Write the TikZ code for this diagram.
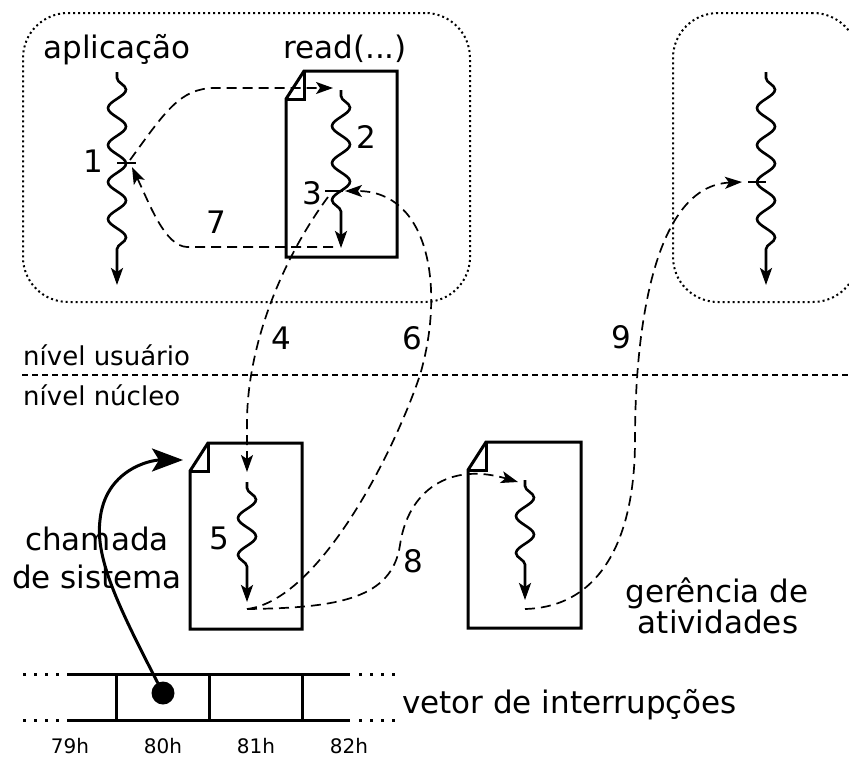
\documentclass[tikz,border=0pt]{standalone}
\usepackage{fontspec}
\setmainfont{DejaVu Sans}
\usetikzlibrary{arrows.meta,decorations.pathmorphing,calc}
\newcommand\mydocoutline[1]{%
  \draw[docline] ([yshift=-28pt]#1.north west) -- ([xshift=18pt]#1.north west) -- (#1.north east) -- (#1.south east) -- (#1.south west) -- cycle;
  \draw[docline] ([xshift=18pt]#1.north west) -- ([xshift=18pt,yshift=-28pt]#1.north west) -- ([yshift=-28pt]#1.north west);}
\begin{document}
\begin{tikzpicture}[x=1pt,y=-1pt,
  big/.style={font=\fontsize{31pt}{38pt}\selectfont, inner sep=0pt, anchor=base},
  lvl/.style={font=\fontsize{26pt}{31pt}\selectfont, inner sep=0pt, anchor=base west},
  hex/.style={font=\fontsize{20pt}{24pt}\selectfont, inner sep=0pt, anchor=base},
  docnode/.style={draw=none, inner sep=0pt, outer sep=0pt, minimum height=186pt},
  docline/.style={line width=3pt, line join=miter},
  dotbox/.style={draw, line width=2pt, dash pattern=on 2pt off 3pt, rounded corners=45pt, inner sep=0pt, outer sep=0pt, minimum height=289pt},
  wavy/.style={line width=2.6pt, decorate, decoration={snake, amplitude=9pt, segment length=37pt, pre length=6pt, post length=18pt}, -{Stealth[length=17pt,width=12pt,inset=4pt]}},
  ticks/.style={line width=2.6pt},
  conn/.style={line width=1.7pt, dash pattern=on 10pt off 6pt, -{Stealth[length=17pt,width=12pt,inset=4pt]}},
  callarrow/.style={line width=3pt, -{Stealth[length=31pt,width=23pt,inset=7pt]}},
  tabline/.style={line width=3pt},
  tabdots/.style={line width=3pt, dash pattern=on 2.5pt off 8.5pt},
  levelline/.style={line width=1.7pt, dash pattern=on 6pt off 4pt}]
\useasboundingbox (0,0) rectangle (849,758);

% user-level boxes
\node[dotbox, minimum width=447pt] (userbox) at (246.5,157.5) {};
\node[dotbox, minimum width=185pt] (otherbox) at (765.5,157.5) {};

% documents
\node[docnode, minimum width=111pt] (readdoc) at (341.5,164) {};
\node[docnode, minimum width=112pt] (scdoc) at (246,536) {};
\node[docnode, minimum width=113pt] (gadoc) at (524.5,535) {};
\mydocoutline{readdoc}
\mydocoutline{scdoc}
\mydocoutline{gadoc}

% texts
\node[big] (lapp) at (117,58) {aplicação};
\node[big] (lread) at (345,58) {read(...)};
\node[big] (n1) at (93,172) {1};
\node[big] (n2) at (366,148) {2};
\node[big] (n3) at (312,204) {3};
\node[big] (n7) at (216,233) {7};
\node[big] (n4) at (281,349) {4};
\node[big] (n6) at (412,349) {6};
\node[big] (n9) at (621,348) {9};
\node[big] (n5) at (219,549) {5};
\node[big] (n8) at (413,572) {8};
\node[lvl] (luser) at (23,365) {nível usuário};
\node[lvl] (lkern) at (23,405) {nível núcleo};
\node[big] (lcham) at (97,550) {chamada};
\node[big] (lsis) at (97,588) {de sistema};
\node[big] (lger) at (717,602) {gerência de};
\node[big] (lativ) at (718,633) {atividades};
\node[big, anchor=base west] (lvet) at (402,713) {vetor de interrupções};
\node[hex] (h79) at (70,753) {79h};
\node[hex] (h80) at (163,753) {80h};
\node[hex] (h81) at (256,753) {81h};
\node[hex] (h82) at (349,753) {82h};

% level separator
\coordinate (lvA) at (22,375);
\coordinate (lvB) at (849,375);
\draw[levelline] (lvA) -- (lvB);

% threads (wavy)
\coordinate (w1s) at (117,72);  \coordinate (w1e) at (117,285);
\coordinate (w2s) at (341,90);  \coordinate (w2e) at (341,248);
\coordinate (w3s) at (247,482); \coordinate (w3e) at (247,602);
\coordinate (w4s) at (525,480); \coordinate (w4e) at (525,600);
\coordinate (w5s) at (766,72);  \coordinate (w5e) at (766,285);
\draw[wavy] (w1s) -- (w1e);
\draw[wavy] (w2s) -- (w2e);
\draw[wavy] (w3s) -- (w3e);
\draw[wavy] (w4s) -- (w4e);
\draw[wavy] (w5s) -- (w5e);

% ticks
\coordinate (t1a) at (117,163); \coordinate (t1b) at (136,163);
\coordinate (t3a) at (325,191); \coordinate (t3b) at (343,191);
\coordinate (t9a) at (748,182); \coordinate (t9b) at (766,182);
\draw[ticks] (t1a) -- (t1b);
\draw[ticks] (t3a) -- (t3b);
\draw[ticks] (t9a) -- (t9b);

% connectors
\coordinate (p1) at (130,160);
\coordinate (p2) at (333,88);
\coordinate (p7s) at (333,247);
\coordinate (p7e) at (132,167);
\coordinate (p3) at (328,197);
\coordinate (p4e) at (247,472);
\coordinate (p5e) at (247,609);
\coordinate (p6e) at (345,191);
\coordinate (p8e) at (518,482);
\coordinate (p9s) at (525,609);
\coordinate (p9e) at (742,182);
\draw[conn] (p1) .. controls (165,112) and (180,88) .. (215,88) -- (p2);
\draw[conn] (p7s) -- (187,247) .. controls (165,246) and (150,205) .. (p7e);
\draw[conn] (p3) .. controls (285,255) and (248,340) .. (247,420) -- (p4e);
\draw[conn] (p5e) .. controls (320,600) and (395,450) .. (420,375) .. controls (445,290) and (430,191) .. (p6e);
\draw[conn] (p5e) .. controls (340,608) and (392,598) .. (400,545) .. controls (408,490) and (450,462) .. (p8e);
\draw[conn] (p9s) .. controls (600,607) and (635,540) .. (635,440) .. controls (635,325) and (655,186) .. (p9e);

% interrupt vector
\coordinate (vtl) at (70,674); \coordinate (vtr) at (350,674);
\coordinate (vbl) at (70,720); \coordinate (vbr) at (350,720);
\draw[tabline] (vtl) -- (vtr);
\draw[tabline] (vbl) -- (vbr);
\draw[tabdots] (23,674) -- (vtl);
\draw[tabdots] (23,720) -- (vbl);
\draw[tabdots] (359,674) -- (395,674);
\draw[tabdots] (359,720) -- (395,720);
\foreach \xx in {116,209,302} \draw[tabline] (\xx,674) -- (\xx,720);

% system call arrow
\node[circle, fill, inner sep=0pt, minimum size=23pt] (dot) at (163,693) {};
\coordinate (chtip) at (183,460);
\draw[callarrow] (dot.center) .. controls (120,610) and (95,560) .. (100,520) .. controls (105,470) and (150,460) .. (chtip);
\end{tikzpicture}
\end{document}
